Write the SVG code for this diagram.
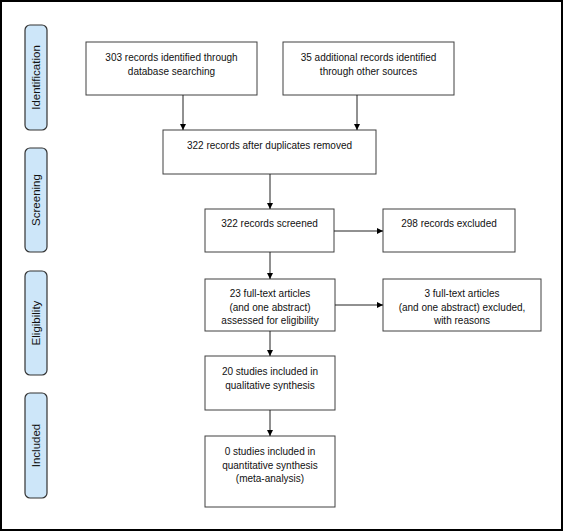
<svg xmlns="http://www.w3.org/2000/svg" width="566" height="532" viewBox="0 0 566 532">
<style>
.box{fill:#fff;stroke:#404040;stroke-width:1}
.lab{fill:#cde6f9;stroke:#333;stroke-width:1.2}
.t{font-family:"Liberation Sans",Arial,sans-serif;font-size:10px;fill:#111;text-anchor:middle}
.lt{font-family:"Liberation Sans",Arial,sans-serif;font-size:11.5px;fill:#111;text-anchor:middle}
.c{stroke:#222;stroke-width:1;fill:none;marker-end:url(#ah)}
</style>
<defs>
<marker id="ah" markerWidth="6" markerHeight="6" refX="6" refY="3" orient="auto" markerUnits="userSpaceOnUse">
<path d="M0,0 L6,3 L0,6 Z" fill="#000"/>
</marker>
</defs>
<rect x="1" y="1" width="561" height="529" fill="#fff" stroke="#000" stroke-width="2"/>
<g id="stage-identification"><rect class="lab" x="25" y="25" width="22" height="105" rx="5"/><text class="lt" transform="translate(40,77.5) rotate(-90)">Identification</text></g>
<g id="stage-screening"><rect class="lab" x="25" y="148" width="22" height="104" rx="5"/><text class="lt" transform="translate(40,200) rotate(-90)">Screening</text></g>
<g id="stage-eligibility"><rect class="lab" x="25" y="271" width="22" height="104" rx="5"/><text class="lt" transform="translate(40,323) rotate(-90)">Eligibility</text></g>
<g id="stage-included"><rect class="lab" x="25" y="393" width="22" height="105" rx="5"/><text class="lt" transform="translate(40,445.5) rotate(-90)">Included</text></g>
<g id="n1"><rect class="box" x="86" y="42" width="171" height="53"/><text class="t" x="171.5" y="61">303 records identified through</text><text class="t" x="171.5" y="75">database searching</text></g>
<g id="n2"><rect class="box" x="283" y="42" width="171" height="53"/><text class="t" x="368.5" y="61">35 additional records identified</text><text class="t" x="368.5" y="75">through other sources</text></g>
<g id="n3"><rect class="box" x="163" y="130" width="213" height="44"/><text class="t" x="269.5" y="149">322 records after duplicates removed</text></g>
<g id="n4"><rect class="box" x="205" y="209" width="129" height="43"/><text class="t" x="269.5" y="227">322 records screened</text></g>
<g id="n5"><rect class="box" x="383" y="209" width="132" height="43"/><text class="t" x="449" y="227">298 records excluded</text></g>
<g id="n6"><rect class="box" x="205" y="279" width="130" height="52"/><text class="t" x="270" y="297">23 full-text articles</text><text class="t" x="270" y="310.5">(and one abstract)</text><text class="t" x="270" y="324">assessed for eligibility</text></g>
<g id="n7"><rect class="box" x="383" y="279" width="158" height="52"/><text class="t" x="462" y="297">3 full-text articles</text><text class="t" x="462" y="310.5">(and one abstract) excluded,</text><text class="t" x="462" y="324">with reasons</text></g>
<g id="n8"><rect class="box" x="205" y="356" width="130" height="54"/><text class="t" x="270" y="375">20 studies included in</text><text class="t" x="270" y="389">qualitative synthesis</text></g>
<g id="n9"><rect class="box" x="205" y="436" width="130" height="71"/><text class="t" x="270" y="455">0 studies included in</text><text class="t" x="270" y="469">quantitative synthesis</text><text class="t" x="270" y="482">(meta-analysis)</text></g>
<g id="connectors">
<line class="c" x1="183" y1="95" x2="183" y2="130"/>
<line class="c" x1="357" y1="95" x2="357" y2="130"/>
<line class="c" x1="270" y1="174" x2="270" y2="209"/>
<line class="c" x1="334" y1="231" x2="383" y2="231"/>
<line class="c" x1="270" y1="252" x2="270" y2="279"/>
<line class="c" x1="335" y1="305" x2="383" y2="305"/>
<line class="c" x1="270" y1="331" x2="270" y2="356"/>
<line class="c" x1="270" y1="410" x2="270" y2="436"/>
</g>
</svg>
